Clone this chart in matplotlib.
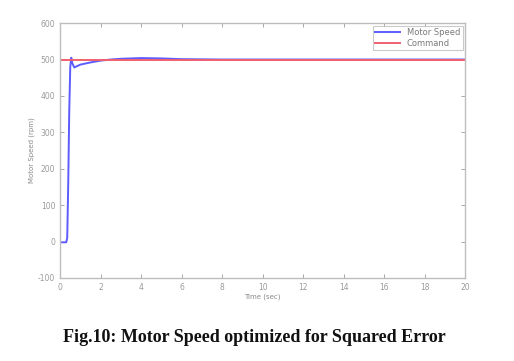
"""Motor speed step response, optimized for squared error."""
import numpy as np
import matplotlib
matplotlib.use("Agg")
import matplotlib.pyplot as plt

plt.rcParams["axes.unicode_minus"] = False

# Data
time = [0, 0.30, 0.35, 0.40, 0.45, 0.50, 0.55, 0.60, 0.70, 0.80, 1.0, 1.5, 2.0, 2.5, 3.0, 4.0, 5.0, 6.0, 8.0, 10.0, 20.0]
speed = [-2, -2, 10, 160, 360, 480, 505, 490, 478, 481, 486, 492, 497, 500, 502, 504, 503, 501, 500, 500, 500]
cmd_time = [0, 20]
cmd_speed = [500, 500]

xticks = np.arange(0, 21, 2)
yticks = np.arange(-100, 601, 100)

fig = plt.figure(figsize=(5.14, 3.61), dpi=100)
ax = fig.add_axes([0.117, 0.23, 0.788, 0.706])

ax.plot(time, speed, color="#5c5cff", linewidth=1.4, label="Motor Speed")
ax.plot(cmd_time, cmd_speed, color="#f06070", linewidth=1.4, label="Command")

ax.set_xlim(0, 20)
ax.set_ylim(-100, 600)
ax.set_xticks(xticks)
ax.set_yticks(yticks)
ax.tick_params(direction="in", top=True, right=True, labelsize=5.5,
               colors="#9a9a9a", length=3, width=0.6)
for s in ax.spines.values():
    s.set_color("#bdbdbd")
    s.set_linewidth(1.0)

ax.set_xlabel("Time (sec)", fontsize=5, color="#8a8a8a", labelpad=1)
ax.set_ylabel("Motor Speed (rpm)", fontsize=5, color="#8a8a8a", labelpad=2)

leg = ax.legend(loc="upper right", fontsize=6, frameon=True, fancybox=False,
                borderpad=0.3, handlelength=3, labelspacing=0.2, borderaxespad=0.3)
leg.get_frame().set_edgecolor("#bdbdbd")
leg.get_frame().set_linewidth(0.8)
for txt in leg.get_texts():
    txt.set_color("#7a7a7a")

fig.text(0.495, 0.064, "Fig.10: Motor Speed optimized for Squared Error",
         ha="center", va="center", fontsize=13, fontweight="bold",
         family="Liberation Serif", color="#111111")

fig.savefig("out.png", dpi=100)
plt.close("all")
